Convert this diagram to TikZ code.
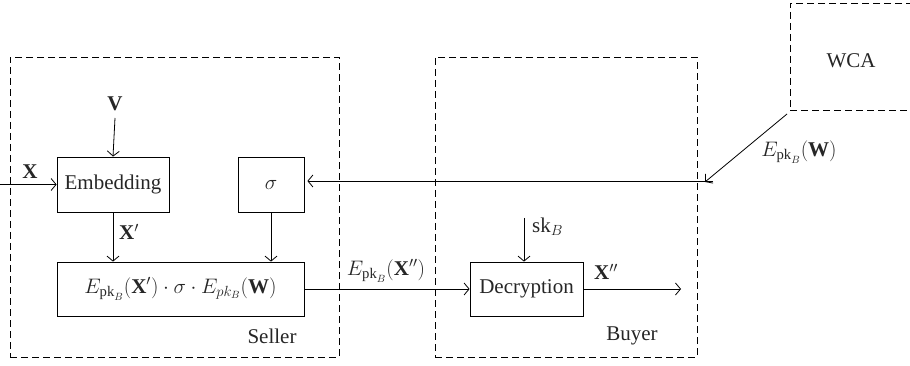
\RequirePackage{fix-cm}
\documentclass[tikz,border=0pt]{standalone}
\usepackage{fontspec}
\setmainfont{Liberation Serif}
\usetikzlibrary{arrows.meta}
\begin{document}
\begin{tikzpicture}[x=1pt,y=-1pt,
  every node/.style={font=\fontsize{21}{25}\selectfont, text=black!85},
  blk/.style={draw, line width=0.8pt, inner sep=0pt},
  grp/.style={draw, line width=0.8pt, dash pattern=on 7pt off 4pt, inner sep=0pt},
  lbl/.style={inner sep=1pt},
  arr/.style={line width=0.8pt, -{Straight Barb[length=5pt,width=12pt,line width=0.8pt]}},
  ln/.style={line width=0.8pt}]
\useasboundingbox (0,0) rectangle (910,366);
% groups
\node[grp, minimum width=329pt, minimum height=300pt] (seller) at (174.5,207) {};
\node[grp, minimum width=262pt, minimum height=300pt] (buyer) at (566,207) {};
\node[grp, minimum width=140pt, minimum height=107pt] (wcabox) at (860,56.5) {};
\node[lbl] (wca) at (851,61) {WCA};
\node[lbl] (sellerlbl) at (272,336) {Seller};
\node[lbl] (buyerlbl) at (632,336) {Buyer};
% blocks
\node[blk, minimum width=112pt, minimum height=55pt] (emb) at (113,184.5) {Embedding};
\node[blk, minimum width=66pt, minimum height=55pt] (sig) at (271,184.5) {$\sigma$};
\node[blk, minimum width=247pt, minimum height=54pt] (prod) at (180.5,289) {$E_{\mathrm{pk}_B}(\mathbf{X}')\cdot\sigma\cdot E_{pk_B}(\mathbf{W})$};
\node[blk, minimum width=113pt, minimum height=54pt] (dec) at (526.5,289) {Decryption};
% inputs / labels
\node[lbl] (V) at (115,104) {$\mathbf{V}$};
\coordinate (xin) at (0,184.5);
\node[lbl] (X) at (30,172) {$\mathbf{X}$};
\node[lbl] (Xp) at (129,232) {$\mathbf{X}'$};
\coordinate (skin) at (524,218);
\node[lbl, anchor=west] (sk) at (531,227) {sk$_B$};
\node[lbl] (Xpp) at (606,272) {$\mathbf{X}''$};
\coordinate (out) at (681,289);
\node[lbl] (Exx) at (386,271) {$E_{\mathrm{pk}_B}(\mathbf{X}'')$};
\node[lbl] (Ew) at (799,152) {$E_{\mathrm{pk}_B}(\mathbf{W})$};
\coordinate (wstart) at (787,114);
\coordinate (wtip) at (705,182);
\coordinate (wright) at (713,181);
% connectors
\draw[arr] (115,118) -- (emb.north);
\draw[arr] (xin) -- (emb.west);
\draw[arr] (emb.south) -- (prod.north -| emb.south);
\draw[arr] (sig.south) -- (prod.north -| sig.south);
\draw[arr] (wstart) -- (wtip);
\draw[arr, shorten >=3pt] (wright) -- (sig.east |- wright);
\draw[arr] (prod.east) -- (dec.west);
\draw[arr] (skin) -- (dec.north -| skin);
\draw[arr] (dec.east) -- (out);
\end{tikzpicture}
\end{document}
